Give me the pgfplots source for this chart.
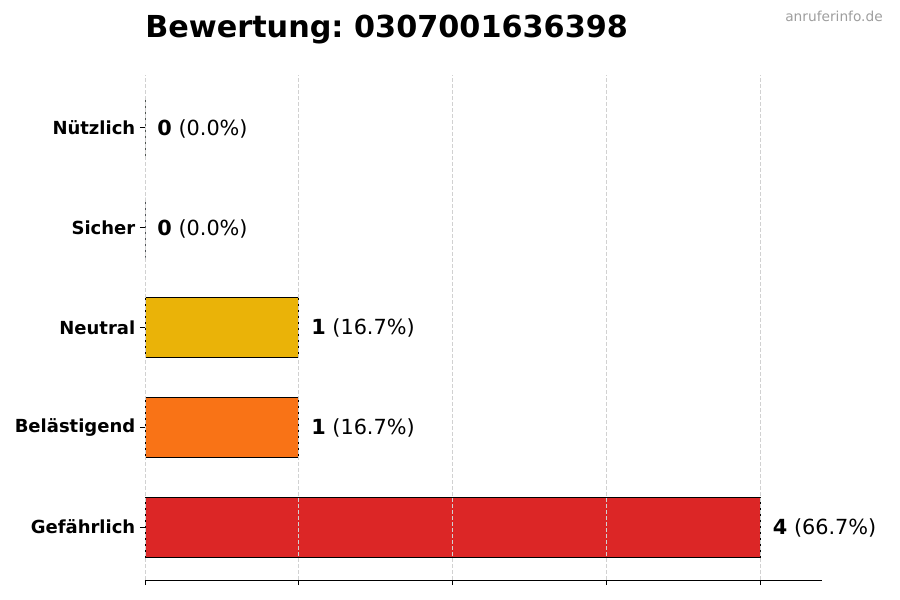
\documentclass[border=0pt]{standalone}
\usepackage{pgfplots}
\pgfplotsset{compat=1.18}
\usepackage{fontspec}
\setmainfont{DejaVu Sans}
\frenchspacing

\definecolor{cRed}{HTML}{DC2626}
\definecolor{cOrange}{HTML}{F97316}
\definecolor{cYellow}{HTML}{EAB308}
\definecolor{cGreen}{HTML}{22C55E}
\definecolor{cBlue}{HTML}{3B82F6}

\begin{document}
\begin{tikzpicture}
\useasboundingbox (0,0) rectangle (675pt,450pt);
\begin{axis}[
    at={(108.75pt,15pt)}, anchor=south west,
    width=507.75pt, height=378.75pt, scale only axis,
    xbar, bar width=0.6, bar shift=0pt,
    xmin=0, xmax=4.4, ymin=-0.53, ymax=4.53,
    enlargelimits=false,
    ytick={0,1,2,3,4},
    yticklabels={Gefährlich, Belästigend, Neutral, Sicher, Nützlich},
    yticklabel style={font=\fontsize{13.5}{16}\selectfont\bfseries},
    xtick={0,1,2,3,4}, xticklabels={},
    tick align=outside, tick pos=left,
    major tick length=3.75pt,
    tick style={black, line width=0.6pt},
    axis x line*=bottom, axis y line*=left,
    y axis line style={draw=none},
    x axis line style={black, line width=0.6pt, -},
    xmajorgrids,
    grid style={dash pattern=on 3pt off 1.5pt, black!18, line width=0.6pt},
    axis on top,
    point meta=explicit symbolic,
    nodes near coords,
    every node near coord/.append style={anchor=west, inner sep=0pt, xshift=9pt,
        yshift=-0.6pt, font=\fontsize{15.6}{18}\selectfont, text=black},
]
\addplot[draw=black, fill=cRed, line width=0.7pt] coordinates {(4,0) [\textbf{4} (66.7\%)]};
\addplot[draw=black, fill=cOrange, line width=0.7pt] coordinates {(1,1) [\textbf{1} (16.7\%)]};
\addplot[draw=black, fill=cYellow, line width=0.7pt] coordinates {(1,2) [\textbf{1} (16.7\%)]};
\addplot[draw=black, fill=cBlue, line width=0.7pt] coordinates {(0,3) [\textbf{0} (0.0\%)]};
\addplot[draw=black, fill=cGreen, line width=0.7pt] coordinates {(0,4) [\textbf{0} (0.0\%)]};
\end{axis}
\node[anchor=base west, inner sep=0pt, font=\fontsize{22.7}{27}\selectfont\bfseries]
    at (108.75pt,421.5pt) {Bewertung: 0307001636398};
\node[anchor=base east, inner sep=0pt, font=\fontsize{10.3}{12}\selectfont, text=black!38]
    at (662.25pt,433.5pt) {anruferinfo.de};
\end{tikzpicture}
\end{document}
